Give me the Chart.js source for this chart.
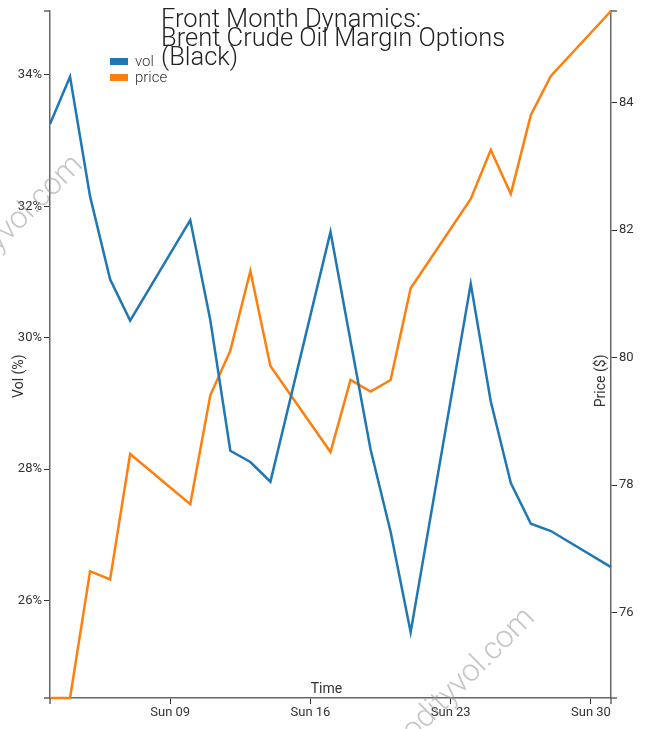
<!DOCTYPE html>
<html>
<head>
<meta charset="utf-8">
<title>Front Month Dynamics</title>
<script src="https://cdn.jsdelivr.net/npm/chart.js@4.4.1/dist/chart.umd.min.js"></script>
<style>
  html, body { margin: 0; padding: 0; background: #fff; }
</style>
</head>
<body>
<canvas id="chart" width="645" height="729"></canvas>
<script>
'use strict';

// trading days (day of month) and the two series
let days = [3, 4, 5, 6, 7, 10, 11, 12, 13, 14, 17, 18, 19, 20, 21, 24, 25, 26, 27, 28, 31];
let volValues = [33.25, 33.97, 32.15, 30.89, 30.26, 31.79, 30.27, 28.28, 28.11, 27.81, 31.61, 29.95, 28.30, 27.05, 25.52, 30.82, 29.03, 27.79, 27.17, 27.06, 26.51];
let priceValues = [74.66, 74.66, 76.65, 76.52, 78.49, 77.70, 79.41, 80.11, 81.36, 79.87, 78.52, 79.65, 79.47, 79.65, 81.09, 82.49, 83.26, 82.57, 83.81, 84.42, 85.44];

// tick labels
let timeTicks = [9, 16, 23, 30];
let timeLabels = ['Sun 09', 'Sun 16', 'Sun 23', 'Sun 30'];
let volTicks = [26, 28, 30, 32, 34];
let priceTicks = [76, 78, 80, 82, 84];

let titleLines = ['Front Month Dynamics:', 'Brent Crude Oil Margin Options', '(Black)'];
let watermark = 'commodityvol.com';

let axisColor = '#666';
let textColor = '#333';

function toPoints(values) {
  let pts = [];
  for (let i = 0; i < days.length; i++) {
    pts.push({ x: days[i], y: values[i] });
  }
  return pts;
}

// titles, legend, watermark and the d3-like outer ticks
let decor = {
  id: 'decor',
  afterDraw(chart) {
    let c = chart.ctx;
    let a = chart.chartArea;
    c.save();

    c.strokeStyle = axisColor;
    c.lineWidth = 1.5;
    c.beginPath();
    c.moveTo(a.left - 6, a.top); c.lineTo(a.left, a.top);
    c.moveTo(a.left - 6, a.bottom); c.lineTo(a.left, a.bottom);
    c.moveTo(a.right, a.top); c.lineTo(a.right + 6, a.top);
    c.moveTo(a.right, a.bottom); c.lineTo(a.right + 6, a.bottom);
    c.moveTo(a.left, a.bottom); c.lineTo(a.left, a.bottom + 6);
    c.moveTo(a.right, a.bottom); c.lineTo(a.right, a.bottom + 6);
    c.stroke();

    let midY = (a.top + a.bottom) / 2;
    c.fillStyle = textColor;
    c.font = '14px Roboto';
    c.textBaseline = 'alphabetic';

    // axis titles
    c.save();
    c.translate(a.left - 27, midY);
    c.rotate(-Math.PI / 2);
    c.textAlign = 'right';
    c.fillText('Vol (%)', 0, 0);
    c.restore();

    c.save();
    c.translate(a.right - 6, midY);
    c.rotate(-Math.PI / 2);
    c.textAlign = 'right';
    c.fillText('Price ($)', 0, 0);
    c.restore();

    c.textAlign = 'center';
    c.fillText('Time', (a.left + a.right) / 2 - 4, a.bottom - 5);

    // title
    c.fillStyle = '#222';
    c.font = '300 25.5px Roboto';
    c.textAlign = 'left';
    for (let i = 0; i < titleLines.length; i++) {
      c.fillText(titleLines[i], 161, 27 + i * 19);
    }

    // legend
    c.font = '300 15px Roboto';
    let sets = chart.data.datasets;
    for (let i = 0; i < sets.length; i++) {
      c.fillStyle = sets[i].borderColor;
      c.fillRect(110, 58 + i * 16, 18, 7);
      c.fillStyle = textColor;
      c.fillText(sets[i].label, 135, 66 + i * 16);
    }

    // watermark
    c.fillStyle = 'rgba(150, 150, 150, 0.55)';
    c.font = '300 31px Roboto';
    c.textAlign = 'right';
    let marks = [[84, 166], [536, 619]];
    for (let i = 0; i < marks.length; i++) {
      c.save();
      c.translate(marks[i][0], marks[i][1]);
      c.rotate(-Math.PI / 4);
      c.fillText(watermark, 0, 0);
      c.restore();
    }

    c.restore();
  }
};

let tickFont = { family: 'Roboto', size: 13 };

let ctx = document.getElementById('chart').getContext('2d');

let chartObject = new Chart(ctx, {
  type: 'line',
  data: {
    datasets: [{
      label: 'vol',
      data: toPoints(volValues),
      yAxisID: 'y',
      borderColor: '#1f77b4',
      backgroundColor: '#1f77b4',
      borderWidth: 2.5,
      pointRadius: 0,
      tension: 0,
      clip: false
    },
    {
      label: 'price',
      data: toPoints(priceValues),
      yAxisID: 'y1',
      borderColor: '#ff7f0e',
      backgroundColor: '#ff7f0e',
      borderWidth: 2.5,
      pointRadius: 0,
      tension: 0,
      clip: false
    }]
  },
  options: {
    responsive: false,
    animation: false,
    devicePixelRatio: 1,
    layout: {
      autoPadding: false,
      padding: { top: 11, left: 0, right: 0, bottom: 0 }
    },
    plugins: {
      legend: { display: false },
      tooltip: { enabled: false }
    },
    scales: {
      x: {
        type: 'linear',
        min: days[0],
        max: days[days.length - 1],
        afterBuildTicks: (scale) => {
          scale.ticks = timeTicks.map((v) => ({ value: v }));
        },
        afterFit: (scale) => { scale.height = 31; },
        grid: { drawOnChartArea: false, drawTicks: true, tickLength: 6, color: '#333', lineWidth: 1 },
        border: { color: axisColor, width: 1.5 },
        ticks: {
          padding: 1,
          maxRotation: 0,
          font: tickFont,
          color: textColor,
          callback: (v) => timeLabels[timeTicks.indexOf(v)]
        }
      },
      y: {
        position: 'left',
        min: Math.min(...volValues) - 1,
        max: Math.max(...volValues) + 1,
        afterBuildTicks: (scale) => {
          scale.ticks = volTicks.map((v) => ({ value: v }));
        },
        afterFit: (scale) => { scale.width = 50; },
        grid: { drawOnChartArea: false, drawTicks: true, tickLength: 6, color: '#333', lineWidth: 1 },
        border: { color: axisColor, width: 1.5 },
        ticks: {
          padding: 2,
          font: tickFont,
          color: textColor,
          callback: (v) => v + '%'
        }
      },
      y1: {
        position: 'right',
        min: Math.min(...priceValues),
        max: Math.max(...priceValues),
        afterBuildTicks: (scale) => {
          scale.ticks = priceTicks.map((v) => ({ value: v }));
        },
        afterFit: (scale) => { scale.width = 34; },
        grid: { drawOnChartArea: false, drawTicks: true, tickLength: 6, color: '#333', lineWidth: 1 },
        border: { color: axisColor, width: 1.5 },
        ticks: {
          padding: 2,
          font: tickFont,
          color: textColor
        }
      }
    }
  },
  plugins: [decor]
});
</script>
</body>
</html>
